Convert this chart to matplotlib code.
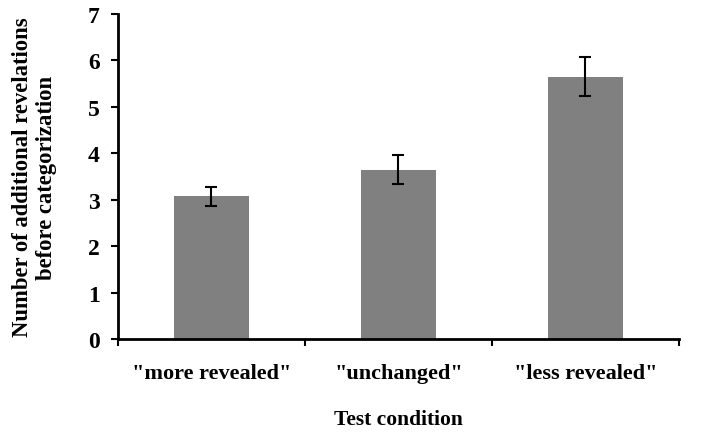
import numpy as np
import matplotlib.pyplot as plt

# podaci
uslovi = ['"more revealed"', '"unchanged"', '"less revealed"']
srednje = [3.07, 3.65, 5.65]
greske = [0.20, 0.32, 0.41]

plt.rcParams['font.family'] = ['Liberation Serif', 'DejaVu Serif']
plt.rcParams['font.weight'] = 'bold'

fig = plt.figure(figsize=(7.14, 4.35), dpi=100)
ax = fig.add_axes([0.165, 0.218, 0.786, 0.748])

x = np.arange(len(uslovi))
ax.bar(x, srednje, width=0.4, color='#808080', zorder=2)
ax.errorbar(x, srednje, yerr=greske, fmt='none', ecolor='black',
            elinewidth=1.5, capsize=4, capthick=1.5, zorder=3)

ax.set_xlim(-0.5, len(uslovi) - 0.5)
ax.set_ylim(0, 7)
ax.set_yticks(range(8))
ax.set_xticks(x)
ax.set_xticklabels(uslovi, fontsize=16, fontweight='bold')
ax.set_xticks(np.arange(len(uslovi) + 1) - 0.5, minor=True)
ax.tick_params(axis='x', which='major', length=0, pad=17)
ax.tick_params(axis='x', which='minor', length=5, width=1.5, direction='out')
ax.tick_params(axis='y', length=5, width=1.5, direction='out', labelsize=17, pad=8)
for t in ax.get_yticklabels():
    t.set_fontweight('bold')

for s in ['top', 'right']:
    ax.spines[s].set_visible(False)
for s in ['left', 'bottom']:
    ax.spines[s].set_linewidth(2)

ax.set_xlabel('Test condition', fontsize=15.5, fontweight='bold', labelpad=19)
ax.set_ylabel('Number of additional revelations\nbefore categorization',
              fontsize=16.3, fontweight='bold', labelpad=22, linespacing=1.2)

fig.savefig('out.png', dpi=100)
